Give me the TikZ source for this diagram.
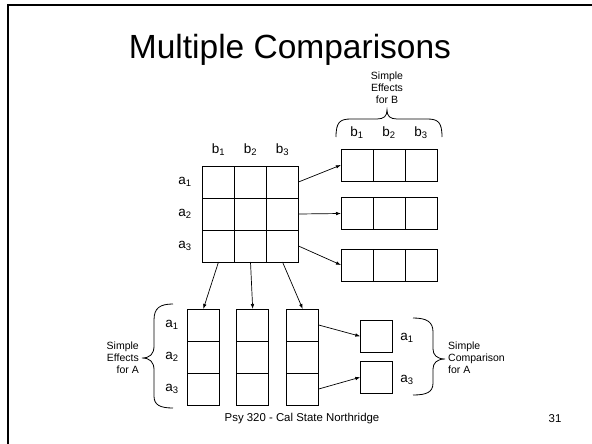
\documentclass[tikz,border=0pt]{standalone}
\usepackage{fontspec}
\setmainfont{Liberation Sans}
\usetikzlibrary{arrows.meta}
\begin{document}
\begin{tikzpicture}[x=1pt,y=-1pt,
  frame/.style={line width=2.2pt, black},
  cell/.style={draw, minimum size=32pt, inner sep=0pt, outer sep=0pt, line width=0.9pt},
  lbl/.style={font=\fontsize{13.5}{15}\selectfont, inner sep=0pt},
  small/.style={font=\fontsize{10.5}{12}\selectfont, inner sep=0pt},
  link/.style={-{Latex[length=5pt,width=3.6pt]}, line width=0.7pt},
  bracepath/.style={line width=0.8pt},
  titletext/.style={font=\fontsize{33.5}{38}\selectfont, inner sep=0pt},
  foot/.style={font=\fontsize{11.4}{13}\selectfont, inner sep=0pt}]
\useasboundingbox (0,0) rectangle (592,444);

% slide border (left and top edges)
\draw[frame] (8,444) -- (8,4.7) -- (592,4.7);

% title
\node[titletext] (title) at (290,50) {Multiple Comparisons};

% main 3x3 table
\foreach \r/\y in {1/182,2/214,3/246}
  \foreach \c/\x in {1/218.5,2/250.5,3/282.5}
    \node[cell] (g\r\c) at (\x,\y) {};
\node[lbl] (gb1) at (218.5,150) {b\textsubscript{1}};
\node[lbl] (gb2) at (250.5,150) {b\textsubscript{2}};
\node[lbl] (gb3) at (282.5,150) {b\textsubscript{3}};
\node[lbl] (ga1) at (185,182) {a\textsubscript{1}};
\node[lbl] (ga2) at (185,214) {a\textsubscript{2}};
\node[lbl] (ga3) at (185,246) {a\textsubscript{3}};

% rows: simple effects for B
\foreach \r/\y in {1/165,2/213.5,3/265}
  \foreach \c/\x in {1/357,2/389,3/421}
    \node[cell] (r\r\c) at (\x,\y) {};
\node[lbl] (rb1) at (357,133) {b\textsubscript{1}};
\node[lbl] (rb2) at (389,133) {b\textsubscript{2}};
\node[lbl] (rb3) at (421,133) {b\textsubscript{3}};
\draw[bracepath] (336,137) .. controls (336,122) and (340,119) .. (351,119)
  -- (377,119) .. controls (384,119) and (387,116) .. (387,110)
  .. controls (387,116) and (390,119) .. (397,119)
  -- (427,119) .. controls (438,119) and (442,122) .. (442,137);
\node[small, align=center] (effB) at (387,88) {Simple\\Effects\\for B};

% columns: simple effects for A
\foreach \c/\x in {1/203.3,2/252.7,3/302.7}
  \foreach \r/\y in {1/325,2/357,3/389}
    \node[cell] (c\c\r) at (\x,\y) {};
\node[lbl] (ca1) at (172,325) {a\textsubscript{1}};
\node[lbl] (ca2) at (172,357) {a\textsubscript{2}};
\node[lbl] (ca3) at (172,389) {a\textsubscript{3}};
\draw[bracepath] (173,304) .. controls (160,304) and (154,308) .. (154,320)
  -- (154,346) .. controls (154,354) and (150,358) .. (142,358)
  .. controls (150,358) and (154,362) .. (154,370)
  -- (154,396) .. controls (154,405) and (160,408) .. (173,408);
\node[small, align=right, anchor=east] (effA) at (139,358) {Simple\\Effects\\for A};

% simple comparison for A
\node[cell] (s1) at (376.3,336.3) {};
\node[cell] (s3) at (376.3,377.2) {};
\node[lbl] (sa1) at (407,338) {a\textsubscript{1}};
\node[lbl] (sa3) at (407,380) {a\textsubscript{3}};
\draw[bracepath] (413,318) .. controls (427,318) and (433,322) .. (433,332)
  -- (433,349) .. controls (433,355) and (437,359) .. (445,359)
  .. controls (437,359) and (433,363) .. (433,369)
  -- (433,383) .. controls (433,392) and (427,395) .. (413,395);
\node[small, align=left, anchor=west] (cmpA) at (448,358) {Simple\\Comparison\\for A};

% connectors
\draw[link] (g13.east) -- (r11.west);
\draw[link] (g23.east) -- (r21.west);
\draw[link] (g33.east) -- (r31.west);
\draw[link] (g31.south) -- (c11.north);
\draw[link] (g32.south) -- (c21.north);
\draw[link] (g33.south) -- (c31.north);
\draw[link] (c31.east) -- (s1.west);
\draw[link] (c33.east) -- (s3.west);

% footer
\node[foot] (footer) at (302,419) {Psy 320 - Cal State Northridge};
\node[foot] (pageno) at (555,419) {31};
\end{tikzpicture}
\end{document}
